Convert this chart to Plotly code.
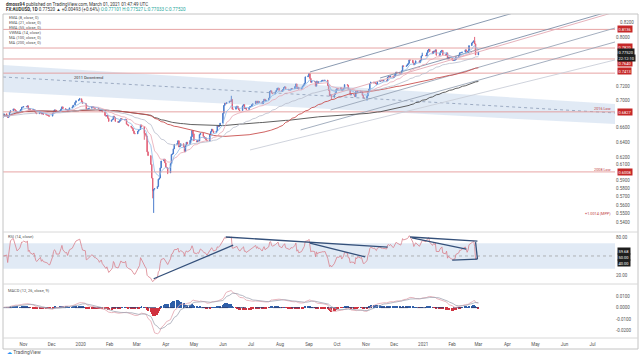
import numpy as np
import pandas as pd
import plotly.graph_objects as go
from plotly.subplots import make_subplots

# ---------------- data ----------------
closes_by_month = {
    "2019-10": [0.6760, 0.6800, 0.6765, 0.6745, 0.6765, 0.6820, 0.6845, 0.6870, 0.6860, 0.6845, 0.6830, 0.6820,
                0.6840, 0.6860, 0.6895, 0.6895],
    "2019-11": [0.6905, 0.6900, 0.6915, 0.6865, 0.6875, 0.6860, 0.6850, 0.6860, 0.6825, 0.6810, 0.6800, 0.6815,
                0.6825, 0.6795, 0.6805, 0.6790, 0.6785, 0.6780, 0.6775, 0.6765, 0.6765],
    "2019-12": [0.6805, 0.6840, 0.6855, 0.6850, 0.6830, 0.6830, 0.6845, 0.6870, 0.6900, 0.6875, 0.6855, 0.6860,
                0.6840, 0.6855, 0.6885, 0.6900, 0.6925, 0.6965, 0.6990, 0.7005, 0.7020],
    "2020-01": [0.6975, 0.6950, 0.6945, 0.6860, 0.6865, 0.6875, 0.6880, 0.6905, 0.6900, 0.6885, 0.6880, 0.6880,
                0.6860, 0.6840, 0.6850, 0.6855, 0.6825, 0.6775, 0.6765, 0.6775, 0.6735, 0.6690],
    "2020-02": [0.6710, 0.6720, 0.6765, 0.6745, 0.6690, 0.6675, 0.6690, 0.6705, 0.6730, 0.6715, 0.6710, 0.6720,
                0.6650, 0.6640, 0.6625, 0.6605, 0.6590, 0.6555, 0.6520, 0.6515],
    "2020-03": [0.6550, 0.6570, 0.6575, 0.6640, 0.6615, 0.6520, 0.6505, 0.6480, 0.6270, 0.6220, 0.6105, 0.5930,
                0.5770, 0.5790, 0.5800, 0.5825, 0.5915, 0.5930, 0.6060, 0.6150, 0.6175, 0.6125],
    "2020-04": [0.6070, 0.6060, 0.5995, 0.6115, 0.6235, 0.6245, 0.6310, 0.6370, 0.6380, 0.6420, 0.6335, 0.6350,
                0.6380, 0.6340, 0.6270, 0.6360, 0.6400, 0.6375, 0.6425, 0.6475, 0.6560, 0.6515],
    "2020-05": [0.6420, 0.6405, 0.6425, 0.6415, 0.6505, 0.6525, 0.6480, 0.6455, 0.6460, 0.6430, 0.6415, 0.6510,
                0.6545, 0.6580, 0.6555, 0.6530, 0.6555, 0.6625, 0.6615, 0.6630, 0.6665],
    "2020-06": [0.6805, 0.6920, 0.6955, 0.6945, 0.6965, 0.6985, 0.6980, 0.7010, 0.6865, 0.6865, 0.6900, 0.6910,
                0.6880, 0.6855, 0.6845, 0.6915, 0.6935, 0.6875, 0.6880, 0.6860, 0.6890, 0.6905],
    "2020-07": [0.6910, 0.6935, 0.6945, 0.6985, 0.6955, 0.6985, 0.6965, 0.6975, 0.6945, 0.6985, 0.7015, 0.6985,
                0.7000, 0.7030, 0.7130, 0.7140, 0.7105, 0.7095, 0.7125, 0.7150, 0.7180, 0.7180, 0.7145],
    "2020-08": [0.7130, 0.7160, 0.7190, 0.7200, 0.7165, 0.7150, 0.7150, 0.7155, 0.7175, 0.7170, 0.7205, 0.7245,
                0.7175, 0.7195, 0.7165, 0.7180, 0.7210, 0.7230, 0.7255, 0.7355, 0.7370],
    "2020-09": [0.7405, 0.7330, 0.7270, 0.7285, 0.7280, 0.7210, 0.7290, 0.7255, 0.7280, 0.7290, 0.7300, 0.7300,
                0.7295, 0.7305, 0.7220, 0.7145, 0.7065, 0.7080, 0.7040, 0.7080, 0.7110, 0.7160],
    "2020-10": [0.7175, 0.7165, 0.7185, 0.7140, 0.7155, 0.7180, 0.7235, 0.7225, 0.7160, 0.7160, 0.7075, 0.7085,
                0.7080, 0.7050, 0.7130, 0.7110, 0.7140, 0.7120, 0.7130, 0.7070, 0.7030, 0.7030],
    "2020-11": [0.7060, 0.7130, 0.7165, 0.7250, 0.7275, 0.7260, 0.7270, 0.7250, 0.7240, 0.7280, 0.7305, 0.7290,
                0.7300, 0.7290, 0.7295, 0.7290, 0.7350, 0.7360, 0.7350, 0.7370, 0.7345],
    "2020-12": [0.7365, 0.7395, 0.7430, 0.7425, 0.7410, 0.7410, 0.7450, 0.7530, 0.7520, 0.7530, 0.7550, 0.7570,
                0.7625, 0.7620, 0.7580, 0.7545, 0.7565, 0.7610, 0.7580, 0.7620, 0.7690, 0.7700],
    "2021-01": [0.7690, 0.7740, 0.7780, 0.7800, 0.7760, 0.7730, 0.7770, 0.7760, 0.7790, 0.7700, 0.7700, 0.7740,
                0.7770, 0.7780, 0.7710, 0.7700, 0.7740, 0.7640, 0.7670, 0.7650],
    "2021-02": [0.7620, 0.7615, 0.7620, 0.7625, 0.7680, 0.7700, 0.7740, 0.7740, 0.7750, 0.7750, 0.7790, 0.7770,
                0.7740, 0.7770, 0.7860, 0.7905, 0.7920, 0.7940, 0.7890, 0.7705],
    "2021-03": [0.7752],
}
first_open = 0.6745
first_day = "2019-10-10"
holidays = ["2019-12-25", "2020-01-01", "2020-12-25", "2021-01-01"]
wick_highs = {"2019-12-31": 0.7032, "2020-06-10": 0.7064, "2020-09-01": 0.7414, "2021-02-25": 0.8007,
              "2020-01-03": 0.6990, "2020-12-31": 0.7742}
wick_lows = {"2020-03-19": 0.5506, "2020-03-18": 0.5680, "2020-03-09": 0.6433, "2020-09-25": 0.7005,
             "2020-11-02": 0.6991, "2020-04-03": 0.5980}

level_prices = [0.8136, 0.7820, 0.7640, 0.7413, 0.6827, 0.6008]
level_texts = ["0.8136", "0.7820", "0.7640", "0.7413", "0.6827", "0.6008"]
price_ticks = [0.80, 0.72, 0.70, 0.66, 0.64, 0.62, 0.61, 0.59, 0.58, 0.57, 0.56, 0.55, 0.54]
top_tick_text = "0.8200"

# 2011 downtrend channel (start/end dates and prices)
band_dates = ["2019-10-10", "2021-07-25"]
band_top = [0.7543, 0.6942]
band_mid = [0.7353, 0.6811]
band_bot = [0.7122, 0.6653]

# rising pitchfork / channel lines  (date0, price0, date1, price1, colour)
fork_lines = [
    ("2020-09-02", 0.7431, "2021-07-25", 0.8971, "#7d8fa8"),
    ("2020-11-16", 0.7337, "2021-07-25", 0.8482, "#7d8fa8"),
    ("2020-09-24", 0.7075, "2021-07-25", 0.8443, "#e3a9b3"),
    ("2020-09-24", 0.6854, "2021-07-25", 0.8160, "#9aa6b8"),
    ("2020-08-23", 0.6569, "2021-07-25", 0.7921, "#9aa6b8"),
    ("2020-06-30", 0.6295, "2021-07-25", 0.7624, "#c9ced8"),
]

# RSI trendlines (date0, rsi0, date1, rsi1)
rsi_lines = [
    ("2020-03-19", 14.0, "2020-06-12", 67.0),
    ("2020-06-04", 80.0, "2020-11-24", 64.0),
    ("2020-09-02", 70.5, "2020-10-31", 48.5),
    ("2020-12-18", 80.0, "2021-02-28", 73.5),
    ("2020-12-20", 78.5, "2021-02-16", 61.0),
    ("2021-02-01", 43.5, "2021-02-28", 45.0),
    ("2021-02-26", 72.0, "2021-02-28", 45.0),
]

month_ticks = ["2019-11-01", "2019-12-01", "2020-01-01", "2020-02-01", "2020-03-01", "2020-04-01", "2020-05-01",
               "2020-06-01", "2020-07-01", "2020-08-01", "2020-09-01", "2020-10-01", "2020-11-01", "2020-12-01",
               "2021-01-01", "2021-02-01", "2021-03-01", "2021-04-01", "2021-05-01", "2021-06-01", "2021-07-01"]
month_labels = ["Nov", "Dec", "2020", "Feb", "Mar", "Apr", "May", "Jun", "Jul", "Aug", "Sep", "Oct", "Nov", "Dec",
                "2021", "Feb", "Mar", "Apr", "May", "Jun", "Jul"]

legend_rows = ["EMA (8, close, 0)", "EMA (21, close, 0)", "EMA (55, close, 0)", "VWMA (14, close)",
               "MA (100, close, 0)", "MA (200, close, 0)"]

# ---------------- build series ----------------
dates, closes = [], []
for m, vals in closes_by_month.items():
    p = pd.Period(m)
    days = [d for d in pd.bdate_range(p.start_time, p.end_time)
            if d >= pd.Timestamp(first_day) and d.strftime("%Y-%m-%d") not in holidays]
    for d, v in zip(days, vals):
        dates.append(d)
        closes.append(v)
dates = pd.DatetimeIndex(dates)
close = pd.Series(closes, index=dates)
opens = pd.Series([first_open] + closes[:-1], index=dates)
highs = np.maximum(opens, close)
lows = np.minimum(opens, close)
for k, v in wick_highs.items():
    if pd.Timestamp(k) in highs.index:
        highs[pd.Timestamp(k)] = max(v, highs[pd.Timestamp(k)])
for k, v in wick_lows.items():
    if pd.Timestamp(k) in lows.index:
        lows[pd.Timestamp(k)] = min(v, lows[pd.Timestamp(k)])

ema8 = close.ewm(span=8, adjust=False).mean()
ema21 = close.ewm(span=21, adjust=False).mean()
ema55 = close.ewm(span=55, adjust=False).mean()
sma100 = close.rolling(100, min_periods=1).mean()
sma200 = close.rolling(200, min_periods=1).mean()

delta = close.diff().fillna(0)
gain = delta.clip(lower=0).ewm(alpha=1 / 14, adjust=False).mean()
loss = (-delta.clip(upper=0)).ewm(alpha=1 / 14, adjust=False).mean()
rsi = 100 - 100 / (1 + gain / loss.replace(0, np.nan))
rsi = rsi.fillna(50)

macd = close.ewm(span=12, adjust=False).mean() - close.ewm(span=26, adjust=False).mean()
signal = macd.ewm(span=9, adjust=False).mean()
hist = macd - signal

# ---------------- figure ----------------
fig = make_subplots(rows=3, cols=1, shared_xaxes=True, vertical_spacing=0,
                    row_heights=[218, 52, 54])

X0, X1 = "2019-10-10", "2021-07-25"

# downtrend band
fig.add_trace(go.Scatter(x=band_dates, y=band_top, mode="lines", line=dict(color="rgba(0,0,0,0)"),
                         hoverinfo="skip", showlegend=False), 1, 1)
fig.add_trace(go.Scatter(x=band_dates, y=band_bot, mode="lines", line=dict(color="rgba(0,0,0,0)"),
                         fill="tonexty", fillcolor="rgba(170,195,225,0.35)", hoverinfo="skip",
                         showlegend=False), 1, 1)
fig.add_trace(go.Scatter(x=band_dates, y=band_mid, mode="lines", line=dict(color="#8a9bb5", width=0.8, dash="dot"),
                         hoverinfo="skip", showlegend=False), 1, 1)

# horizontal levels
for lv in level_prices:
    fig.add_trace(go.Scatter(x=[X0, X1], y=[lv, lv], mode="lines", line=dict(color="#e39a9a", width=0.9),
                             hoverinfo="skip", showlegend=False), 1, 1)

# pitchfork lines
for d0, p0, d1, p1, c in fork_lines:
    fig.add_trace(go.Scatter(x=[d0, d1], y=[p0, p1], mode="lines", line=dict(color=c, width=0.9),
                             hoverinfo="skip", showlegend=False), 1, 1)

# moving averages
for s, c, w in [(sma200, "#4d4d4d", 0.9), (sma100, "#c9504f", 0.9), (ema55, "#b8bccc", 0.8),
                (ema21, "#e7a7b4", 0.8), (ema8, "#8fbbe8", 0.8)]:
    fig.add_trace(go.Scatter(x=dates, y=s, mode="lines", line=dict(color=c, width=w),
                             hoverinfo="skip", showlegend=False), 1, 1)

fig.add_trace(go.Candlestick(x=dates, open=opens, high=highs, low=lows, close=close,
                             increasing=dict(line=dict(color="#4a7ccc", width=1), fillcolor="#4a7ccc"),
                             decreasing=dict(line=dict(color="#e2647a", width=1), fillcolor="#e2647a"),
                             whiskerwidth=0, showlegend=False), 1, 1)

# RSI panel
fig.add_trace(go.Scatter(x=[X0, X1], y=[70, 70], mode="lines", line=dict(color="rgba(0,0,0,0)"),
                         hoverinfo="skip", showlegend=False), 2, 1)
fig.add_trace(go.Scatter(x=[X0, X1], y=[30, 30], mode="lines", line=dict(color="rgba(0,0,0,0)"),
                         fill="tonexty", fillcolor="rgba(170,195,225,0.35)", hoverinfo="skip",
                         showlegend=False), 2, 1)
fig.add_trace(go.Scatter(x=[X0, X1], y=[50, 50], mode="lines", line=dict(color="#9a9a9a", width=0.7, dash="dot"),
                         hoverinfo="skip", showlegend=False), 2, 1)
fig.add_trace(go.Scatter(x=dates, y=rsi, mode="lines", line=dict(color="#d9808c", width=0.8),
                         hoverinfo="skip", showlegend=False), 2, 1)
for d0, v0, d1, v1 in rsi_lines:
    fig.add_trace(go.Scatter(x=[d0, d1], y=[v0, v1], mode="lines", line=dict(color="#34507a", width=1.3),
                             hoverinfo="skip", showlegend=False), 2, 1)

# MACD panel
hist_colors = ["#2f5fa8" if h >= 0 else "#d0323f" for h in hist]
fig.add_trace(go.Bar(x=dates, y=hist, marker=dict(color=hist_colors, line=dict(width=0)),
                     hoverinfo="skip", showlegend=False), 3, 1)
fig.add_trace(go.Scatter(x=[dates[0], dates[-1]], y=[0, 0], mode="lines",
                         line=dict(color="#2c3e70", width=0.8, dash="dash"),
                         hoverinfo="skip", showlegend=False), 3, 1)
fig.add_trace(go.Scatter(x=dates, y=macd, mode="lines", line=dict(color="#e3a3ad", width=0.8),
                         hoverinfo="skip", showlegend=False), 3, 1)
fig.add_trace(go.Scatter(x=dates, y=signal, mode="lines", line=dict(color="#a2a6b4", width=0.8),
                         hoverinfo="skip", showlegend=False), 3, 1)

FONT = "Roboto, Arial, sans-serif"
tickfont = dict(size=4.5, color="#555555", family=FONT)

fig.update_layout(
    width=640, height=358, margin=dict(l=3, r=25, t=14, b=20),
    paper_bgcolor="white", plot_bgcolor="white", bargap=0,
    font=dict(family=FONT, size=5, color="#444"),
)
for i in (1, 2, 3):
    fig.update_xaxes(row=i, col=1, range=[X0, X1], showgrid=False, zeroline=False, showline=False,
                     rangeslider=dict(visible=False), ticks="")
fig.update_xaxes(row=1, col=1, showticklabels=False)
fig.update_xaxes(row=2, col=1, showticklabels=False)
fig.update_xaxes(row=3, col=1, showticklabels=True, tickmode="array", tickvals=month_ticks,
                 ticktext=month_labels, tickfont=tickfont, ticklabelstandoff=2)

fig.update_yaxes(row=1, col=1, type="log", range=[np.log10(0.5287), np.log10(0.8407)], side="right",
                 tickmode="array", tickvals=price_ticks, ticktext=["%.4f" % v for v in price_ticks],
                 tickfont=tickfont, showgrid=False, zeroline=False, ticks="")
fig.update_yaxes(row=2, col=1, range=[5.7, 87.9], side="right", tickmode="array", tickvals=[80, 20],
                 ticktext=["80.00", "20.00"], tickfont=tickfont, showgrid=False, zeroline=False, ticks="")
fig.update_yaxes(row=3, col=1, range=[-0.0265, 0.0206], side="right", tickmode="array",
                 tickvals=[0.01, 0.0, -0.01, -0.02], ticktext=["0.0100", "0.0000", "-0.0100", "-0.0200"],
                 tickfont=tickfont, showgrid=False, zeroline=False, ticks="")


def px(x):
    return (x - 3) / 612.0


def py(y):
    return (338 - y) / 324.0


ann = []


def axis_label(ypix, text, bg):
    ann.append(dict(x=1, xref="paper", xanchor="left", xshift=2, y=py(ypix), yref="paper", yanchor="middle",
                    text=text, showarrow=False, bgcolor=bg, font=dict(size=4, color="white", family=FONT),
                    borderpad=0.5))


# top price-scale label, nudged up clear of the 0.8136 box (as in the reference)
ann.append(dict(x=1, xref="paper", xanchor="left", xshift=3, y=py(22.5), yref="paper", yanchor="middle",
                text=top_tick_text, showarrow=False, font=dict(size=4.5, color="#555555", family=FONT)))

# right-axis level labels (pixel rows where the reference puts them)
for ypix, t in zip([29, 47, 63, 71, 112, 172], level_texts):
    axis_label(ypix, t, "#c62828")
axis_label(52, "0.77520", "#1e1e1e")
axis_label(57.5, "22:12:10", "#1e1e1e")
for ypix, t in [(250.5, "59.68"), (256.5, "50.00"), (262.5, "40.00")]:
    axis_label(ypix, t, "#1e1e1e")

# header
ann.append(dict(x=px(4), y=py(4), xref="paper", yref="paper", xanchor="left", yanchor="middle", showarrow=False,
                text="<b>dmoss94</b> published on TradingView.com, March 01, 2021 01:47:49 UTC",
                font=dict(size=4.5, color="#333", family=FONT)))
ann.append(dict(x=px(4), y=py(10), xref="paper", yref="paper", xanchor="left", yanchor="middle", showarrow=False,
                text="<b>FX:AUDUSD, 1D</b> 0.77520 ▲ +0.00493 (+0.64%) <span style='color:#26a69a'>O:0.77101 "
                     "H:0.77527 L:0.77033 C:0.77520</span>",
                font=dict(size=4.5, color="#333", family=FONT)))
# indicator legend
for i, t in enumerate(legend_rows):
    ann.append(dict(x=px(7), y=py(17 + i * 5.2), xref="paper", yref="paper", xanchor="left", yanchor="middle",
                    showarrow=False, text=t, font=dict(size=4, color="#555", family=FONT)))
ann.append(dict(x=px(6), y=py(237), xref="paper", yref="paper", xanchor="left", yanchor="middle",
                showarrow=False, text="RSI (14, close)", font=dict(size=4, color="#555", family=FONT)))
ann.append(dict(x=px(6), y=py(290), xref="paper", yref="paper", xanchor="left", yanchor="middle",
                showarrow=False, text="MACD (12, 26, close, 9)", font=dict(size=4, color="#555", family=FONT)))
# chart notes
ann.append(dict(x=px(88), y=py(77), xref="paper", yref="paper", xanchor="center", yanchor="middle",
                showarrow=False, text="2011 Downtrend", font=dict(size=4, color="#333", family=FONT)))
ann.append(dict(x=px(613), y=py(108.5), xref="paper", yref="paper", xanchor="right", yanchor="middle",
                showarrow=False, text="2016 Low", font=dict(size=3.8, color="#c04040", family=FONT)))
ann.append(dict(x=px(613), y=py(169), xref="paper", yref="paper", xanchor="right", yanchor="middle",
                showarrow=False, text="2008 Low", font=dict(size=3.8, color="#c04040", family=FONT)))
ann.append(dict(x=px(613), y=py(213.5), xref="paper", yref="paper", xanchor="right", yanchor="middle",
                showarrow=False, text="+1.0014 (MPP)", font=dict(size=3.8, color="#c04040", family=FONT)))
ann.append(dict(x=px(5), y=py(352), xref="paper", yref="paper", xanchor="left", yanchor="middle",
                showarrow=False, text="<span style='color:#2196f3'>&#9729;</span> TradingView",
                font=dict(size=5, color="#555", family=FONT)))
fig.update_layout(annotations=ann)

shapes = [
    dict(type="rect", xref="paper", yref="paper", x0=px(3), x1=px(638), y0=py(349), y1=py(14),
         line=dict(color="#c4c4c4", width=1)),
    dict(type="line", xref="paper", yref="paper", x0=px(3), x1=px(638), y0=py(232), y1=py(232),
         line=dict(color="#d8d8d8", width=1)),
    dict(type="line", xref="paper", yref="paper", x0=px(3), x1=px(638), y0=py(284), y1=py(284),
         line=dict(color="#d8d8d8", width=1)),
    dict(type="line", xref="paper", yref="paper", x0=px(3), x1=px(638), y0=py(338), y1=py(338),
         line=dict(color="#d8d8d8", width=1)),
]
fig.update_layout(shapes=shapes)

fig.write_html("out.html", config={"displayModeBar": False},
               post_script="document.body.style.margin='0px';")
